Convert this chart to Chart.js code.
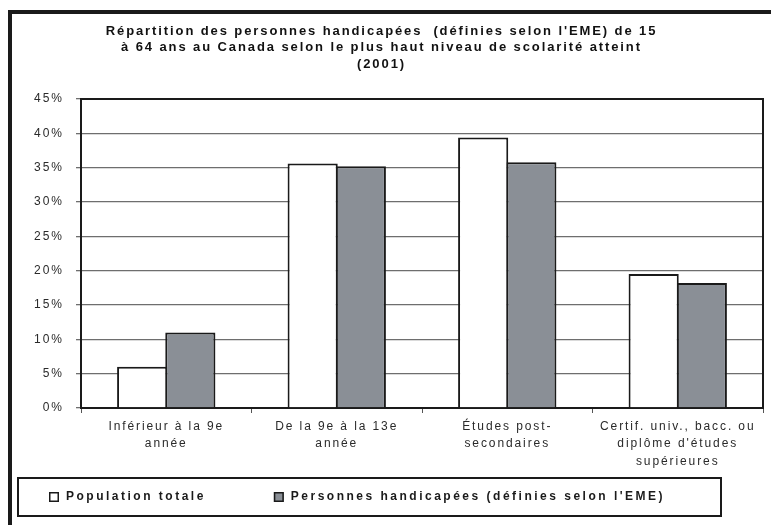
<!DOCTYPE html>
<html lang="fr">
<head>
<meta charset="utf-8">
<title>Répartition des personnes handicapées selon la scolarité</title>
<script src="https://cdn.jsdelivr.net/npm/chart.js@4/dist/chart.umd.min.js"></script>
<style>
  html, body { margin: 0; padding: 0; background: #ffffff; }
  #wrap { position: relative; width: 771px; height: 525px; overflow: hidden; }
  #frame {
    position: absolute; left: 8px; top: 10px; width: 800px; height: 600px;
    border-left: 4px solid #1a1a1a; border-top: 4px solid #1a1a1a;
  }
  #chart { position: absolute; left: 0; top: 0; }
</style>
</head>
<body>
<div id="wrap">
  <div id="frame"></div>
  <canvas id="chart" width="771" height="525"></canvas>
</div>
<script>
// Niveaux de scolarité (catégories de l'axe horizontal)
const categories = [
  ['Inférieur à la 9e', 'année'],
  ['De la 9e à la 13e', 'année'],
  ['Études post-', 'secondaires'],
  ['Certif. univ., bacc. ou', 'diplôme d\'études', 'supérieures']
];

// Séries, en pourcentage
const seriesNames = ['Population totale', 'Personnes handicapées (définies selon l\'EME)'];
const populationTotale = [6.0, 35.6, 39.4, 19.5];
const personnesHandicapees = [11.0, 35.2, 35.8, 18.2];

// Axe des pourcentages
const yMax = 45;
const yStep = 5;

const titleLines = [
  'Répartition des personnes handicapées  (définies selon l\'EME) de 15',
  'à 64 ans au Canada selon le plus haut niveau de scolarité atteint',
  '(2001)'
];

const FONT = '"Liberation Sans", Arial, Helvetica, sans-serif';
const INK = '#1a1a1a';

// Échelles qui espacent les lettres de leurs étiquettes
class SpacedCategoryScale extends Chart.CategoryScale {
  static id = 'spacedCategory';
  drawLabels(area) {
    const ctx = this.ctx;
    ctx.save();
    ctx.letterSpacing = '1.9px';
    super.drawLabels(area);
    ctx.restore();
  }
}
class SpacedLinearScale extends Chart.LinearScale {
  static id = 'spacedLinear';
  drawLabels(area) {
    const ctx = this.ctx;
    ctx.save();
    ctx.letterSpacing = '2px';
    super.drawLabels(area);
    ctx.restore();
  }
}
Chart.register(SpacedCategoryScale, SpacedLinearScale);

// Espacement des lettres du titre
const titleSpacing = {
  id: 'titleSpacing',
  beforeDraw(chart) { chart.ctx.letterSpacing = '1.9px'; }
};

// Bordure noire du haut et de droite de la zone de tracé
const plotBorder = {
  id: 'plotBorder',
  beforeDatasetsDraw(chart) {
    const { ctx, chartArea: a } = chart;
    ctx.save();
    ctx.strokeStyle = INK;
    ctx.lineWidth = 2;
    ctx.beginPath();
    ctx.moveTo(a.left, a.top);
    ctx.lineTo(a.right, a.top);
    ctx.lineTo(a.right, a.bottom);
    ctx.stroke();
    ctx.restore();
  }
};

// Légende encadrée sous le graphique
const boxedLegend = {
  id: 'boxedLegend',
  afterDraw(chart, args, opts) {
    const ctx = chart.ctx;
    ctx.save();
    ctx.letterSpacing = '0px';
    ctx.strokeStyle = INK;
    ctx.lineWidth = 2;
    ctx.strokeRect(opts.left, opts.top, opts.right - opts.left, opts.bottom - opts.top);

    const cy = (opts.top + opts.bottom) / 2;
    let x = opts.left + opts.inset;
    ctx.font = 'bold 12px ' + FONT;
    ctx.textBaseline = 'middle';
    ctx.textAlign = 'left';
    chart.data.datasets.forEach((ds) => {
      const s = 10;
      ctx.fillStyle = ds.backgroundColor;
      ctx.fillRect(x, cy - s / 2, s, s);
      ctx.lineWidth = 1.5;
      ctx.strokeStyle = INK;
      ctx.strokeRect(x + 0.75, cy - s / 2 + 0.75, s - 1.5, s - 1.5);
      const tx = x + s + 7;
      ctx.letterSpacing = '2.5px';
      ctx.fillStyle = INK;
      ctx.fillText(ds.label, tx, cy);
      const w = ctx.measureText(ds.label).width;
      ctx.letterSpacing = '0px';
      x = tx + w + opts.gap;
    });
    ctx.restore();
  }
};

new Chart(document.getElementById('chart'), {
  type: 'bar',
  data: {
    labels: categories,
    datasets: [
      {
        label: seriesNames[0],
        data: populationTotale,
        backgroundColor: '#ffffff',
        borderColor: INK,
        borderWidth: 2,
        borderSkipped: 'bottom'
      },
      {
        label: seriesNames[1],
        data: personnesHandicapees,
        backgroundColor: '#8a8f96',
        borderColor: INK,
        borderWidth: 2,
        borderSkipped: 'bottom'
      }
    ]
  },
  options: {
    responsive: false,
    animation: false,
    devicePixelRatio: 1,
    categoryPercentage: 0.565,
    barPercentage: 1.0415,
    layout: { padding: { top: 0, left: 0, right: 8, bottom: 0 } },
    plugins: {
      legend: { display: false },
      tooltip: { enabled: false },
      title: {
        display: true,
        text: titleLines,
        color: '#111111',
        font: { family: FONT, size: 13, weight: 'bold', lineHeight: 1.27 },
        padding: { top: 23, bottom: 26.5 }
      },
      boxedLegend: { left: 18, top: 478, right: 721, bottom: 516, inset: 31, gap: 68 }
    },
    scales: {
      x: {
        type: 'spacedCategory',
        offset: true,
        grid: {
          display: true,
          offset: true,
          drawOnChartArea: false,
          drawTicks: true,
          tickLength: 5,
          color: '#555555'
        },
        border: { display: true, color: INK, width: 2 },
        ticks: {
          color: '#2a2a2a',
          padding: 5,
          maxRotation: 0,
          autoSkip: false,
          font: { family: FONT, size: 12, lineHeight: 1.45 }
        },
        afterFit(scale) { scale.height = 117; }
      },
      y: {
        type: 'spacedLinear',
        min: 0,
        max: yMax,
        grid: {
          color: '#6e6e6e',
          lineWidth: 1.3,
          tickLength: 5,
          tickColor: '#6e6e6e'
        },
        border: { display: true, color: INK, width: 2 },
        ticks: {
          stepSize: yStep,
          color: '#2a2a2a',
          padding: 12,
          font: { family: FONT, size: 12 },
          callback: (v) => v + '%'
        },
        afterFit(scale) { scale.width = 81; }
      }
    }
  },
  plugins: [titleSpacing, plotBorder, boxedLegend]
});
</script>
</body>
</html>
